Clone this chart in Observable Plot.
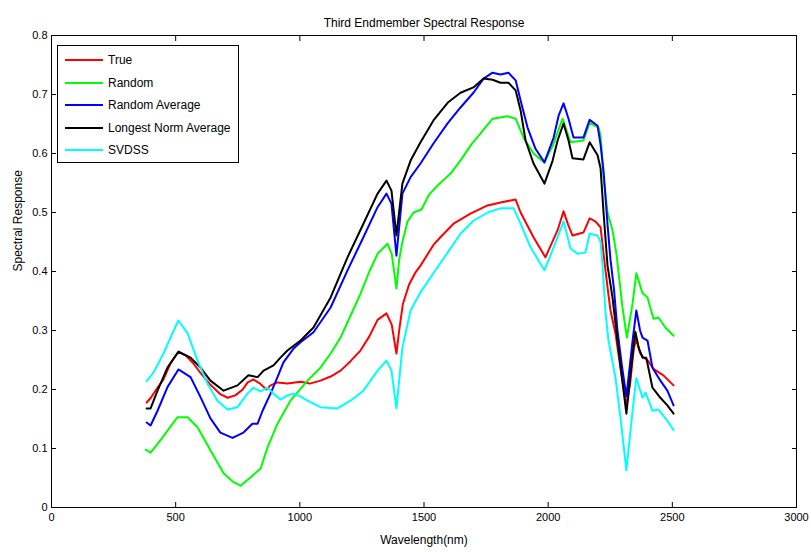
<!DOCTYPE html>
<html>
<head>
<meta charset="utf-8">
<script src="https://cdn.jsdelivr.net/npm/d3@7"></script>
<script src="https://cdn.jsdelivr.net/npm/@observablehq/plot@0.6"></script>
<style>
  html, body { margin: 0; padding: 0; background: #fff; }
  #chart { position: relative; width: 811px; height: 552px; font-family: "Liberation Sans", Arial, sans-serif; }
  #legend { position: absolute; left: 57px; top: 45px; width: 180px; height: 116px; border: 1px solid #000; background: #fff; font-size: 12px; }
  #legend .row { position: absolute; left: 6px; height: 20px; display: flex; align-items: center; }
  #legend .row svg { margin-right: 4px; }
</style>
</head>
<body>
<div id="chart"></div>
<script>
// Tick values
const wavelengthTicks = [0, 500, 1000, 1500, 2000, 2500, 3000];
const responseTicks = [0, 0.1, 0.2, 0.3, 0.4, 0.5, 0.6, 0.7, 0.8];

// Spectral response per method: [wavelength (nm), response]
const trueResp = [
  [383,0.178],[400,0.186],[430,0.205],[451,0.217],[480,0.245],[511,0.264],[540,0.258],[570,0.245],
  [600,0.228],[640,0.208],[680,0.192],[709,0.186],[740,0.19],[770,0.2],[790,0.212],[813,0.217],
  [840,0.21],[865,0.2],[882,0.207],[910,0.212],[950,0.21],[1003,0.213],[1040,0.21],[1083,0.215],
  [1124,0.222],[1164,0.232],[1204,0.248],[1244,0.266],[1280,0.29],[1313,0.318],[1349,0.329],
  [1370,0.31],[1389,0.261],[1400,0.3],[1415,0.345],[1440,0.378],[1465,0.398],[1486,0.41],
  [1538,0.445],[1566,0.458],[1619,0.481],[1687,0.498],[1756,0.512],[1808,0.517],[1869,0.522],
  [1889,0.5],[1941,0.458],[1989,0.424],[2038,0.47],[2062,0.502],[2080,0.48],[2098,0.461],
  [2142,0.466],[2167,0.49],[2190,0.485],[2211,0.475],[2223,0.43],[2239,0.373],[2251,0.334],
  [2271,0.295],[2291,0.237],[2315,0.172],[2330,0.21],[2345,0.27],[2355,0.285],[2370,0.262],
  [2384,0.254],[2400,0.25],[2424,0.235],[2464,0.224],[2505,0.207]
];

const randomResp = [
  [379,0.098],[399,0.093],[439,0.114],[479,0.137],[507,0.153],[548,0.153],[588,0.136],[640,0.097],
  [693,0.058],[733,0.043],[761,0.037],[801,0.051],[842,0.066],[870,0.102],[910,0.142],[962,0.181],
  [1031,0.215],[1083,0.237],[1124,0.261],[1164,0.288],[1204,0.325],[1244,0.362],[1280,0.4],
  [1313,0.43],[1353,0.447],[1370,0.43],[1389,0.371],[1400,0.42],[1413,0.45],[1434,0.485],
  [1458,0.5],[1490,0.505],[1520,0.53],[1560,0.548],[1607,0.566],[1650,0.59],[1690,0.615],
  [1728,0.634],[1776,0.659],[1836,0.663],[1869,0.659],[1901,0.627],[1941,0.6],[1985,0.585],
  [2022,0.617],[2058,0.659],[2090,0.619],[2142,0.622],[2167,0.652],[2203,0.644],[2211,0.63],
  [2223,0.56],[2239,0.5],[2259,0.47],[2275,0.43],[2299,0.34],[2317,0.288],[2340,0.346],
  [2355,0.397],[2380,0.363],[2400,0.356],[2424,0.32],[2444,0.322],[2472,0.305],[2505,0.291]
];

const randomAvgResp = [
  [383,0.144],[399,0.139],[427,0.164],[467,0.204],[511,0.234],[560,0.221],[600,0.187],[640,0.151],
  [680,0.127],[729,0.118],[773,0.127],[809,0.142],[830,0.142],[850,0.164],[882,0.193],[910,0.221],
  [934,0.246],[974,0.269],[1003,0.28],[1055,0.297],[1124,0.339],[1192,0.402],[1256,0.458],
  [1313,0.509],[1349,0.532],[1369,0.515],[1389,0.427],[1413,0.532],[1446,0.56],[1486,0.583],
  [1538,0.617],[1595,0.651],[1647,0.678],[1699,0.703],[1740,0.727],[1776,0.737],[1808,0.734],
  [1840,0.737],[1869,0.724],[1889,0.69],[1917,0.644],[1949,0.608],[1985,0.585],[2022,0.627],
  [2042,0.664],[2062,0.685],[2082,0.659],[2102,0.627],[2142,0.627],[2167,0.657],[2199,0.647],
  [2211,0.615],[2223,0.57],[2239,0.48],[2251,0.42],[2265,0.37],[2279,0.3],[2297,0.24],
  [2315,0.188],[2340,0.283],[2355,0.334],[2370,0.3],[2380,0.288],[2400,0.283],[2420,0.237],
  [2452,0.215],[2480,0.198],[2505,0.173]
];

const longestNormResp = [
  [383,0.168],[399,0.168],[427,0.198],[467,0.237],[511,0.264],[560,0.254],[600,0.237],[640,0.215],
  [693,0.198],[749,0.207],[793,0.224],[830,0.221],[854,0.232],[894,0.241],[922,0.254],[950,0.266],
  [1003,0.283],[1055,0.305],[1124,0.356],[1192,0.424],[1256,0.481],[1313,0.532],[1349,0.554],
  [1369,0.537],[1389,0.461],[1413,0.549],[1446,0.588],[1486,0.619],[1538,0.656],[1595,0.686],
  [1647,0.703],[1699,0.712],[1740,0.727],[1776,0.725],[1808,0.72],[1840,0.72],[1869,0.707],
  [1889,0.673],[1909,0.622],[1941,0.583],[1985,0.549],[2018,0.588],[2038,0.622],[2062,0.651],
  [2082,0.622],[2098,0.592],[2142,0.59],[2167,0.619],[2199,0.597],[2211,0.575],[2223,0.5],
  [2239,0.41],[2259,0.356],[2279,0.283],[2297,0.22],[2315,0.159],[2335,0.24],[2351,0.298],
  [2365,0.27],[2380,0.254],[2395,0.254],[2420,0.203],[2452,0.186],[2480,0.173],[2505,0.159]
];

const svdssResp = [
  [383,0.214],[411,0.229],[451,0.261],[479,0.288],[511,0.317],[548,0.295],[588,0.249],[628,0.21],
  [668,0.181],[709,0.166],[749,0.17],[789,0.193],[813,0.203],[842,0.197],[870,0.203],[894,0.193],
  [922,0.183],[950,0.19],[975,0.193],[1003,0.188],[1031,0.181],[1083,0.17],[1152,0.168],
  [1204,0.181],[1256,0.198],[1313,0.232],[1349,0.249],[1369,0.232],[1389,0.168],[1413,0.271],
  [1446,0.334],[1486,0.365],[1538,0.397],[1595,0.432],[1647,0.464],[1699,0.486],[1756,0.5],
  [1808,0.507],[1861,0.507],[1889,0.481],[1929,0.441],[1985,0.402],[2022,0.441],[2062,0.485],
  [2090,0.439],[2118,0.43],[2150,0.432],[2167,0.464],[2199,0.461],[2211,0.45],[2219,0.41],
  [2231,0.33],[2243,0.283],[2271,0.22],[2291,0.153],[2315,0.063],[2340,0.164],[2355,0.219],
  [2380,0.186],[2392,0.195],[2420,0.164],[2444,0.166],[2480,0.147],[2505,0.131]
];

const seriesNames = ["True", "Random", "Random Average", "Longest Norm Average", "SVDSS"];
const seriesColors = ["#ff0000", "#00ff00", "#0000ff", "#000000", "#00ffff"];
const seriesData = [trueResp, randomResp, randomAvgResp, longestNormResp, svdssResp];

const fmt = d => String(d);

const chart = Plot.plot({
  width: 811,
  height: 552,
  marginLeft: 51,
  marginRight: 15,
  marginTop: 35,
  marginBottom: 45,
  style: { fontFamily: "'Liberation Sans', Arial, sans-serif", fontSize: "11px", background: "#fff", color: "#000" },
  x: { domain: [0, 3000] },
  y: { domain: [0, 0.8] },
  marks: [
    Plot.frame({ stroke: "#000" }),
    // inward ticks on all four sides, labels on bottom and left
    Plot.axisX(wavelengthTicks, { anchor: "bottom", tickSize: -5, tickPadding: 11, tickFormat: fmt, label: null }),
    Plot.axisX(wavelengthTicks, { anchor: "top", tickSize: -5, tickFormat: () => "", label: null }),
    Plot.axisY(responseTicks, { anchor: "left", tickSize: -5, tickPadding: 9, tickFormat: fmt, label: null }),
    Plot.axisY(responseTicks, { anchor: "right", tickSize: -5, tickFormat: () => "", label: null }),
    ...seriesData.map((data, i) =>
      Plot.line(data, { x: d => d[0], y: d => d[1], stroke: seriesColors[i], strokeWidth: 2 })
    ),
    Plot.text(["Third Endmember Spectral Response"], { frameAnchor: "top", dy: -17, fontSize: 12 }),
    Plot.text(["Wavelength(nm)"], { frameAnchor: "bottom", dy: 36, fontSize: 12 }),
    Plot.text(["Spectral Response"], { frameAnchor: "left", dx: -33, rotate: -90, fontSize: 12 })
  ]
});

const container = document.getElementById("chart");
container.appendChild(chart);

// Legend box overlaid in the upper-left of the plot
const legend = document.createElement("div");
legend.id = "legend";
seriesNames.forEach((name, i) => {
  const row = document.createElement("div");
  row.className = "row";
  row.style.top = (4 + i * 22.5) + "px";
  row.innerHTML = `<svg width="40" height="4"><line x1="1" x2="39" y1="2" y2="2" stroke="${seriesColors[i]}" stroke-width="2"/></svg><span>${name}</span>`;
  legend.appendChild(row);
});
container.appendChild(legend);
</script>
</body>
</html>
